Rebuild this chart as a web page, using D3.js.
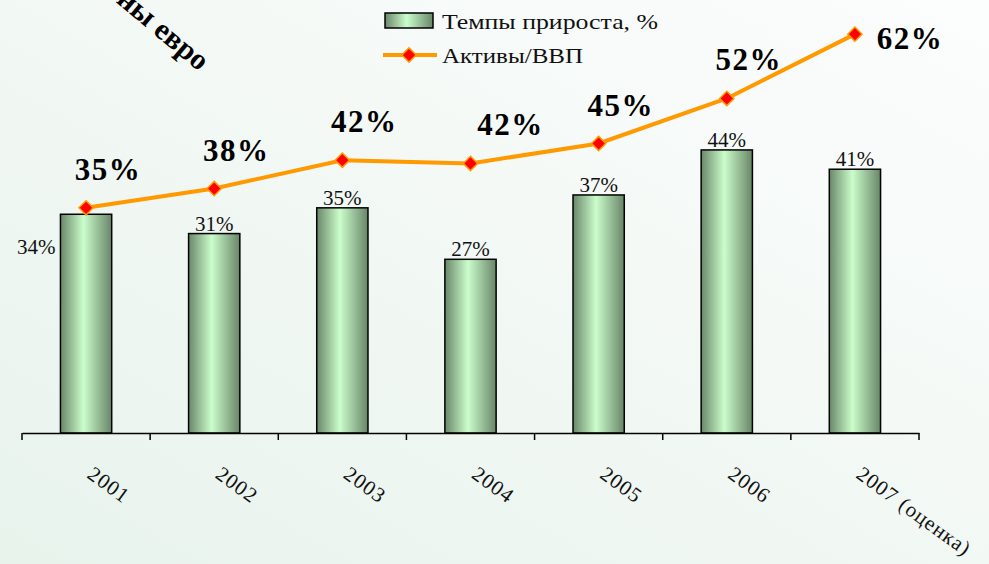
<!DOCTYPE html>
<html>
<head>
<meta charset="utf-8">
<script src="https://cdn.jsdelivr.net/npm/d3@7"></script>
<style>
  body { margin: 0; padding: 0; overflow: hidden; }
  text { font-family: "Liberation Serif", "Times New Roman", serif; }
</style>
</head>
<body>
<div class="chart"></div>
<script>
var svgWidth = 989;
var svgHeight = 564;

// chart data
var years = ["2001", "2002", "2003", "2004", "2005", "2006", "2007 (оценка)"];
var growth = [34, 31, 35, 27, 37, 44, 41];          // Темпы прироста, %
var assetsGdp = [35, 38, 42.4, 41.9, 45, 52, 62];   // Активы/ВВП, %
var seriesNames = ["Темпы прироста, %", "Активы/ВВП"];
var titleText = "Активы, миллионы евро";

var margin = { top: 0, left: 22, right: 70, bottom: 131 };
var width = svgWidth - margin.left - margin.right;
var baseY = svgHeight - margin.bottom;

var svg = d3.select(".chart")
  .append("svg")
  .attr("width", svgWidth)
  .attr("height", svgHeight);

var defs = svg.append("defs");

var bg = defs.append("linearGradient")
  .attr("id", "bg")
  .attr("x1", "0%").attr("y1", "100%")
  .attr("x2", "100%").attr("y2", "0%");
bg.append("stop").attr("offset", "0%").attr("stop-color", "#e8f3ec");
bg.append("stop").attr("offset", "100%").attr("stop-color", "#fcfdfd");

var barGrad = defs.append("linearGradient")
  .attr("id", "barGrad")
  .attr("x1", "0%").attr("y1", "0%")
  .attr("x2", "100%").attr("y2", "0%");
barGrad.append("stop").attr("offset", "0%").attr("stop-color", "#6a876a");
barGrad.append("stop").attr("offset", "45%").attr("stop-color", "#cbfdcb");
barGrad.append("stop").attr("offset", "100%").attr("stop-color", "#688568");

svg.append("rect")
  .attr("width", svgWidth)
  .attr("height", svgHeight)
  .attr("fill", "url(#bg)");

var chartGroup = svg.append("g")
  .attr("transform", `translate(${margin.left}, 0)`);

// scales
var xScale = d3.scaleBand()
  .domain(years)
  .range([0, width])
  .paddingInner(0.6)
  .paddingOuter(0.3);

var yScale = d3.scaleLinear()
  .domain([0, 60])
  .range([baseY, baseY - 386]);

var cx = (d, i) => xScale(years[i]) + xScale.bandwidth() / 2;

// bars
chartGroup.selectAll(".bar")
  .data(growth)
  .enter()
  .append("rect")
  .attr("class", "bar")
  .attr("x", (d, i) => xScale(years[i]))
  .attr("y", d => yScale(d))
  .attr("width", xScale.bandwidth())
  .attr("height", d => baseY - yScale(d))
  .attr("fill", "url(#barGrad)")
  .attr("stroke", "#000")
  .attr("stroke-width", 1.5);

// bar labels (first one sits left of its bar)
chartGroup.selectAll(".barLabel")
  .data(growth)
  .enter()
  .append("text")
  .attr("class", "barLabel")
  .attr("x", (d, i) => i === 0 ? xScale(years[i]) - 5 : cx(d, i))
  .attr("y", (d, i) => i === 0 ? yScale(d) + 40 : yScale(d) - 3)
  .attr("text-anchor", (d, i) => i === 0 ? "end" : "middle")
  .style("font-size", "21px")
  .attr("fill", "#111")
  .text(d => d + "%");

// x axis
var bottomAxis = d3.axisBottom(xScale).tickSize(0).tickFormat("");
var xAxis = chartGroup.append("g")
  .attr("transform", `translate(0, ${baseY})`)
  .call(bottomAxis);
xAxis.select(".domain").attr("stroke", "#000").attr("stroke-width", 1.5);

var edges = d3.range(years.length + 1).map(i => i * width / years.length);
xAxis.selectAll(".edgeTick")
  .data(edges)
  .enter()
  .append("line")
  .attr("x1", d => d).attr("x2", d => d)
  .attr("y1", 0).attr("y2", 7)
  .attr("stroke", "#000")
  .attr("stroke-width", 1.5);

chartGroup.selectAll(".xLabel")
  .data(years)
  .enter()
  .append("text")
  .attr("class", "xLabel")
  .attr("transform", d => `translate(${xScale(d) + xScale.bandwidth() / 2}, ${baseY + 44}) rotate(36)`)
  .style("font-size", "21px")
  .style("letter-spacing", "1px")
  .attr("fill", "#111")
  .text(d => d);

// line
var line = d3.line()
  .x(cx)
  .y(d => yScale(d));

chartGroup.append("path")
  .datum(assetsGdp)
  .attr("d", line)
  .attr("fill", "none")
  .attr("stroke", "#ff9900")
  .attr("stroke-width", 4);

var diamond = d3.symbol().type(d3.symbolDiamond2).size(130);
chartGroup.selectAll(".marker")
  .data(assetsGdp)
  .enter()
  .append("path")
  .attr("class", "marker")
  .attr("d", diamond)
  .attr("transform", (d, i) => `translate(${cx(d, i)}, ${yScale(d)})`)
  .attr("fill", "#ff0000")
  .attr("stroke", "#ff9900")
  .attr("stroke-width", 1.5);

// line labels
var last = assetsGdp.length - 1;
chartGroup.selectAll(".lineLabel")
  .data(assetsGdp)
  .enter()
  .append("text")
  .attr("class", "lineLabel")
  .attr("x", (d, i) => i === last ? cx(d, i) + 55 : cx(d, i) + (i === 3 ? 40 : 22))
  .attr("y", (d, i) => i === last ? yScale(d) + 15 : yScale(d) - 28)
  .attr("text-anchor", "middle")
  .style("font-family", "'Liberation Serif', serif")
  .style("font-size", "31px")
  .style("font-weight", "bold")
  .style("letter-spacing", "1.5px")
  .attr("fill", "#000")
  .text(d => Math.round(d) + "%");

// legend
var legend = svg.append("g")
  .attr("transform", "translate(385, 13)");

legend.append("rect")
  .attr("x", 0).attr("y", 0)
  .attr("width", 48).attr("height", 15)
  .attr("fill", "url(#barGrad)")
  .attr("stroke", "#000")
  .attr("stroke-width", 1.5);

legend.append("text")
  .attr("x", 57).attr("y", 16)
  .attr("textLength", 216)
  .attr("lengthAdjust", "spacingAndGlyphs")
  .style("font-size", "22px")
  .attr("fill", "#111")
  .text(seriesNames[0]);

legend.append("line")
  .attr("x1", -2).attr("x2", 52)
  .attr("y1", 42).attr("y2", 42)
  .attr("stroke", "#ff9900")
  .attr("stroke-width", 4);

legend.append("path")
  .attr("d", diamond)
  .attr("transform", "translate(24, 42)")
  .attr("fill", "#ff0000")
  .attr("stroke", "#ff9900")
  .attr("stroke-width", 1.5);

legend.append("text")
  .attr("x", 57).attr("y", 50)
  .attr("textLength", 141)
  .attr("lengthAdjust", "spacingAndGlyphs")
  .style("font-size", "22px")
  .attr("fill", "#111")
  .text(seriesNames[1]);

// title, cut off by the top edge as in the source slide
svg.append("text")
  .attr("transform", "translate(199, 72) rotate(40)")
  .attr("text-anchor", "end")
  .style("font-size", "30px")
  .style("font-weight", "bold")
  .attr("fill", "#000")
  .text(titleText);
</script>
</body>
</html>
